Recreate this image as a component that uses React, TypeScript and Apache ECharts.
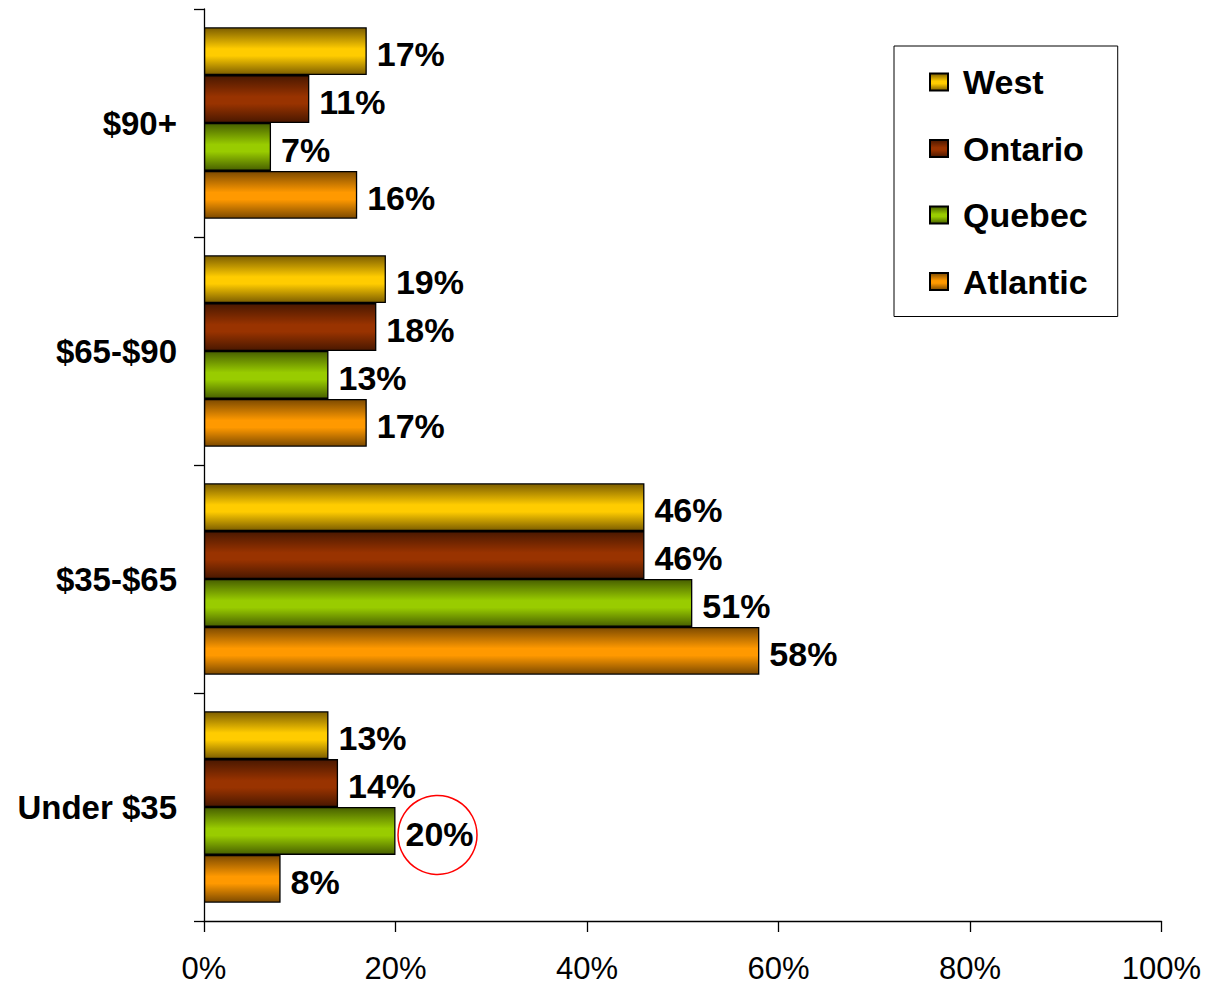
import React, { useEffect, useRef } from "react";
import * as echarts from "echarts";

const categories = ["$90+", "$65-$90", "$35-$65", "Under $35"];
const seriesNames = ["West", "Ontario", "Quebec", "Atlantic"];
const westValues = [17, 19, 46, 13];
const ontarioValues = [11, 18, 46, 14];
const quebecValues = [7, 13, 51, 20];
const atlanticValues = [16, 17, 58, 8];
const xTicks = [0, 20, 40, 60, 80, 100];
const highlighted = { series: "Quebec", category: "Under $35", value: 20 };

const palette: Record<string, [string, string]> = {
  West: ["#7d5e00", "#ffcc00"],
  Ontario: ["#4a1800", "#993300"],
  Quebec: ["#486000", "#99cc00"],
  Atlantic: ["#7d4a00", "#ff9900"],
};

const grad = (name: string) => {
  const [dark, bright] = palette[name];
  return new echarts.graphic.LinearGradient(0, 0, 0, 1, [
    { offset: 0, color: dark },
    { offset: 0.45, color: bright },
    { offset: 0.6, color: bright },
    { offset: 1, color: dark },
  ]);
};

const FONT = "'Liberation Sans', Arial, sans-serif";

export default function App() {
  const ref = useRef<HTMLDivElement>(null);
  useEffect(() => {
    if (!ref.current) return;
    document.body.style.margin = "0";
    const chart = echarts.init(ref.current, undefined, { renderer: "svg" });
    const valuesBySeries: Record<string, number[]> = {
      West: westValues,
      Ontario: ontarioValues,
      Quebec: quebecValues,
      Atlantic: atlanticValues,
    };
    chart.setOption({
      animation: false,
      backgroundColor: "#ffffff",
      textStyle: { fontFamily: FONT },
      grid: { left: 204, right: 45.5, top: 9, bottom: 65 },
      legend: {
        data: seriesNames,
        orient: "vertical",
        left: 894,
        top: 46,
        padding: [19, 30, 18, 35],
        itemGap: 32.5,
        itemWidth: 18,
        itemHeight: 17,
        icon: "rect",
        borderColor: "#000",
        borderWidth: 1,
        textStyle: {
          fontFamily: FONT,
          fontSize: 34,
          fontWeight: "bold",
          color: "#000",
          padding: [0, 0, 0, 10],
          lineHeight: 32,
        },
      },
      xAxis: {
        type: "value",
        min: 0,
        max: 100,
        interval: 20,
        splitLine: { show: false },
        axisLine: { show: true, lineStyle: { color: "#000", width: 1.3 } },
        axisTick: { show: true, length: 11, lineStyle: { color: "#000", width: 1.3 } },
        axisLabel: {
          margin: 31,
          fontSize: 31,
          lineHeight: 32,
          color: "#000",
          fontFamily: FONT,
          formatter: (v: number) => (xTicks.includes(v) ? `${v}%` : ""),
        },
      },
      yAxis: {
        type: "category",
        data: categories,
        inverse: true,
        axisLine: { show: true, lineStyle: { color: "#000", width: 1.3 } },
        axisTick: { show: true, length: 10, lineStyle: { color: "#000", width: 1.3 } },
        axisLabel: {
          margin: 27,
          fontSize: 33,
          fontWeight: "bold",
          color: "#000",
          fontFamily: FONT,
        },
      },
      series: seriesNames.map((name) => ({
        name,
        type: "bar",
        data: valuesBySeries[name],
        barGap: "0%",
        barCategoryGap: "16%",
        itemStyle: { color: grad(name), borderColor: "#000", borderWidth: 1.3 },
        label: {
          show: true,
          position: "right",
          distance: 10,
          offset: [0, 3],
          formatter: "{c}%",
          fontSize: 34,
          fontWeight: "bold",
          color: "#000",
          fontFamily: FONT,
        },
      })),
    });

    // highlight circle around the chosen label
    const catIdx = categories.indexOf(highlighted.category);
    const sIdx = seriesNames.indexOf(highlighted.series);
    const c0 = chart.convertToPixel({ yAxisIndex: 0 }, categories[0]) as number;
    const c1 = chart.convertToPixel({ yAxisIndex: 0 }, categories[1]) as number;
    const band = Math.abs(c1 - c0);
    const barW = (band * (1 - 0.16)) / seriesNames.length;
    const cy0 = chart.convertToPixel({ yAxisIndex: 0 }, categories[catIdx]) as number;
    const cy = cy0 - (barW * seriesNames.length) / 2 + barW * (sIdx + 0.5) + 4;
    const bx = chart.convertToPixel({ xAxisIndex: 0 }, highlighted.value) as number;
    chart.setOption({
      graphic: [
        {
          type: "circle",
          shape: { cx: bx + 42, cy, r: 39.5 },
          style: { fill: "none", stroke: "#ff0000", lineWidth: 1.5 },
          z: 100,
        },
      ],
    });

    return () => chart.dispose();
  }, []);
  return <div ref={ref} style={{ width: 1207, height: 986 }} />;
}
